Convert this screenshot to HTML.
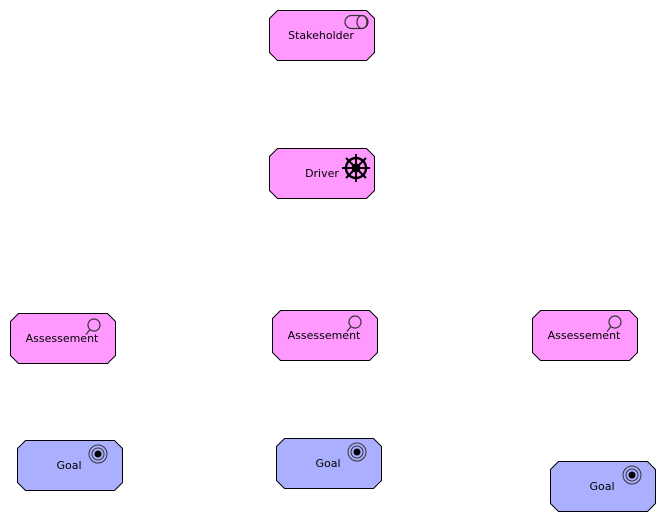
<!DOCTYPE html>
<html><head><meta charset="utf-8"><style>
html,body{margin:0;padding:0;background:#fff;width:665px;height:521px;overflow:hidden}
svg text{font-family:"DejaVu Sans","Liberation Sans",sans-serif;font-size:11px;fill:#000}
</style></head><body>
<svg width="665" height="521" viewBox="0 0 665 521" xmlns="http://www.w3.org/2000/svg">
<defs>
<polygon id="box" points="8,0 97,0 105,8 105,42 97,50 8,50 0,42 0,8" stroke="#000" stroke-width="1"/>
<g id="mag" fill="none" stroke="#333" stroke-width="1.2"><circle cx="0" cy="0" r="6"/><line x1="-4" y1="4.5" x2="-8" y2="9.5"/></g>
<g id="tgt"><circle r="9" fill="none" stroke="#333" stroke-width="1"/><circle r="6" fill="none" stroke="#333" stroke-width="1"/><circle r="3.5" fill="#000"/></g>
</defs>
<use href="#box" x="269.5" y="10.5" fill="#ff99ff"/>
<text x="321" y="39" text-anchor="middle">Stakeholder</text>
<rect x="345" y="15.5" width="23" height="13" rx="6.5" fill="none" stroke="#333" stroke-width="1.2"/>
<ellipse cx="362" cy="22" rx="5" ry="6.5" fill="none" stroke="#333" stroke-width="1.2"/>
<use href="#box" x="269.5" y="148.5" fill="#ff99ff"/>
<text x="322" y="177" text-anchor="middle">Driver</text>
<g transform="translate(356,168)" stroke="#000" fill="none">
<circle r="10" stroke-width="2.4"/>
<g stroke-width="2"><line x1="-14" y1="0" x2="14" y2="0"/><line x1="0" y1="-14" x2="0" y2="14"/><line x1="-10" y1="-10" x2="10" y2="10"/><line x1="-10" y1="10" x2="10" y2="-10"/></g>
<circle r="4" fill="#000"/>
</g>
<use href="#box" x="10.5" y="313.5" fill="#ff99ff"/>
<text x="62" y="342" text-anchor="middle">Assessement</text>
<use href="#mag" x="94" y="325"/>
<use href="#box" x="272.5" y="310.5" fill="#ff99ff"/>
<text x="324" y="339" text-anchor="middle">Assessement</text>
<use href="#mag" x="355" y="322"/>
<use href="#box" x="532.5" y="310.5" fill="#ff99ff"/>
<text x="584" y="339" text-anchor="middle">Assessement</text>
<use href="#mag" x="615" y="322"/>
<use href="#box" x="17.5" y="440.5" fill="#aab0ff"/>
<text x="69" y="469" text-anchor="middle">Goal</text>
<use href="#tgt" x="98" y="454"/>
<use href="#box" x="276.5" y="438.5" fill="#aab0ff"/>
<text x="328" y="467" text-anchor="middle">Goal</text>
<use href="#tgt" x="357" y="452"/>
<use href="#box" x="550.5" y="461.5" fill="#aab0ff"/>
<text x="602" y="490" text-anchor="middle">Goal</text>
<use href="#tgt" x="632" y="475"/>
</svg>
</body></html>
